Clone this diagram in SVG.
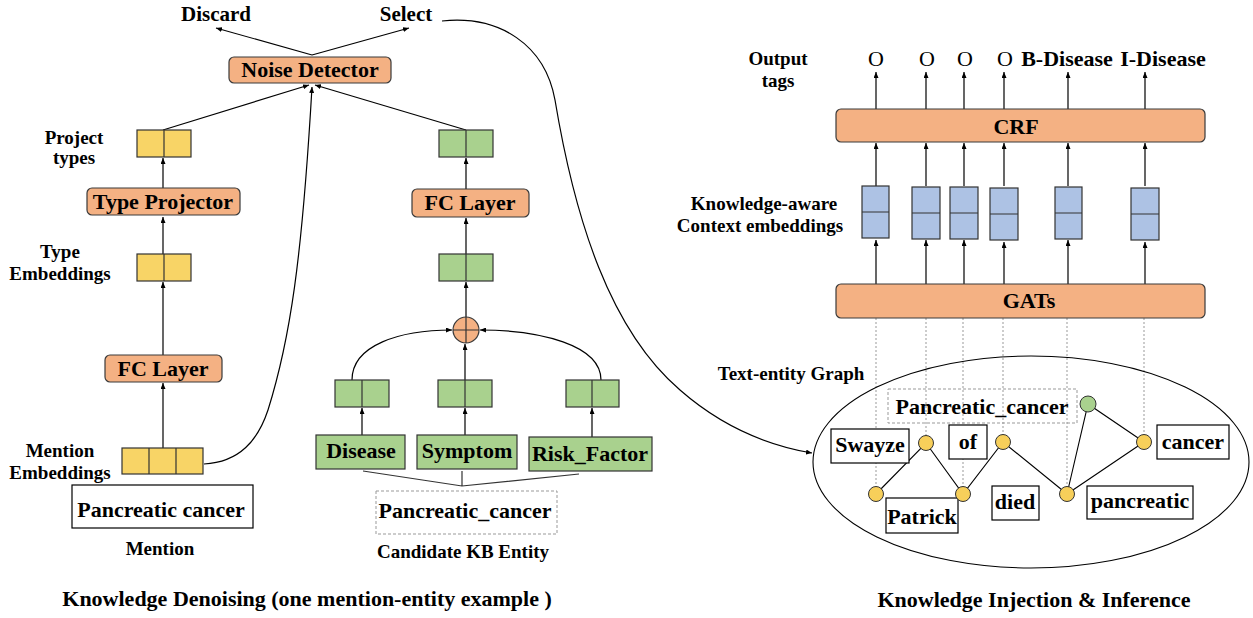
<svg xmlns="http://www.w3.org/2000/svg" width="1253" height="618" viewBox="0 0 1253 618">
<style>
text{font-family:"Liberation Serif","Times New Roman",serif;font-weight:bold;fill:#000}
.t{font-size:22px;text-anchor:middle}
.l{font-size:19px;text-anchor:middle}
.o{font-size:22px;font-weight:normal;text-anchor:middle}
.cap{font-size:22px;text-anchor:middle}
.orange{fill:#F4B183;stroke:#3a3a3a;stroke-width:1.2}
.yel{fill:#F8D466;stroke:#333;stroke-width:1.2}
.grn{fill:#A9D18E;stroke:#333;stroke-width:1.2}
.blu{fill:#ADC2E4;stroke:#333;stroke-width:1.2}
.wbox{fill:#fff;stroke:#000;stroke-width:1.2}
.dbox{fill:none;stroke:#999;stroke-width:1;stroke-dasharray:3,2}
.c{fill:none;stroke:#000;stroke-width:1.2}
.dot{fill:none;stroke:#999;stroke-width:1;stroke-dasharray:2,2}
.e{stroke:#000;stroke-width:1.1}
.yn{fill:#F7CF5A;stroke:#333;stroke-width:1}
.gn{fill:#A9D18E;stroke:#333;stroke-width:1}
</style>
<defs>
<marker id="ah" markerWidth="6" markerHeight="5" refX="6" refY="2.5" orient="auto" markerUnits="userSpaceOnUse">
<path d="M0,0 L6,2.5 L0,5 z" fill="#000"/>
</marker>
</defs>

<!-- connectors -->
<g id="connectors">
<path class="c" d="M312,55 L216,28" marker-end="url(#ah)"/>
<path class="c" d="M312,55 L409,28" marker-end="url(#ah)"/>
<path class="c" d="M163,130 L309,85" marker-end="url(#ah)"/>
<path class="c" d="M466,130 L315,85" marker-end="url(#ah)"/>
<path class="c" d="M204,464 C240,462 258,440 268,410 C290,340 302,260 312,87" marker-end="url(#ah)"/>
<path class="c" d="M163,188 L163,158" marker-end="url(#ah)"/>
<path class="c" d="M163,254 L163,217" marker-end="url(#ah)"/>
<path class="c" d="M163,355 L163,282" marker-end="url(#ah)"/>
<path class="c" d="M163,448 L163,383" marker-end="url(#ah)"/>
<path class="c" d="M466,190 L466,158" marker-end="url(#ah)"/>
<path class="c" d="M466,254 L466,218" marker-end="url(#ah)"/>
<path class="c" d="M466,317 L466,282" marker-end="url(#ah)"/>
<path class="c" d="M465,380 L465,344" marker-end="url(#ah)"/>
<path class="c" d="M352,380 C352,345 400,330 452,330" marker-end="url(#ah)"/>
<path class="c" d="M601,380 C601,345 540,330 480,330" marker-end="url(#ah)"/>
<path class="c" d="M362,435 L362,408" marker-end="url(#ah)"/>
<path class="c" d="M465,435 L465,408" marker-end="url(#ah)"/>
<path class="c" d="M592,437 L592,408" marker-end="url(#ah)"/>
<path class="c" d="M363,471 L462,486 L579,474 M462,471 L462,486" style="stroke:#333"/>
<path class="c" d="M442,21 C500,15 545,45 555,100 C575,220 610,330 680,390 C720,425 765,445 812,453" marker-end="url(#ah)"/>
<g>
<path class="c" d="M876,109 V72" marker-end="url(#ah)"/>
<path class="c" d="M926,109 V72" marker-end="url(#ah)"/>
<path class="c" d="M964,109 V72" marker-end="url(#ah)"/>
<path class="c" d="M1004,109 V72" marker-end="url(#ah)"/>
<path class="c" d="M1068,109 V72" marker-end="url(#ah)"/>
<path class="c" d="M1145,109 V72" marker-end="url(#ah)"/>
<path class="c" d="M876,186 V143" marker-end="url(#ah)"/>
<path class="c" d="M926,186 V143" marker-end="url(#ah)"/>
<path class="c" d="M964,186 V143" marker-end="url(#ah)"/>
<path class="c" d="M1004,186 V143" marker-end="url(#ah)"/>
<path class="c" d="M1068,186 V143" marker-end="url(#ah)"/>
<path class="c" d="M1145,186 V143" marker-end="url(#ah)"/>
<path class="c" d="M876,284 V240" marker-end="url(#ah)"/>
<path class="c" d="M926,284 V240" marker-end="url(#ah)"/>
<path class="c" d="M964,284 V240" marker-end="url(#ah)"/>
<path class="c" d="M1004,284 V242" marker-end="url(#ah)"/>
<path class="c" d="M1068,284 V240" marker-end="url(#ah)"/>
<path class="c" d="M1145,284 V242" marker-end="url(#ah)"/>
</g>
<path class="dot" d="M876,318 V494 M926,318 V443 M963,318 V494 M1003,318 V442 M1067,318 V494 M1144,318 V442"/>
<path class="e" d="M876,494 L926,443 L963,494 L1003,442 L1067,494 L1144,442 M1067,494 L1088,404 L1144,442" fill="none"/>
</g>

<!-- left: knowledge denoising -->
<g id="discard"><text x="216" y="21" class="t" style="font-size:21px">Discard</text></g>
<g id="select"><text x="406" y="21" class="t" style="font-size:21px">Select</text></g>
<g id="noise-detector"><rect class="orange" x="229" y="57" width="162" height="26" rx="5"/><text x="310" y="77" class="t">Noise Detector</text></g>
<g id="project-types"><rect class="yel" x="137" y="130" width="54" height="27"/><line x1="164" y1="130" x2="164" y2="157" stroke="#333" stroke-width="1.2"/>
<text x="74" y="144" class="l">Project</text><text x="74" y="164" class="l">types</text></g>
<g id="type-projector"><rect class="orange" x="87" y="188" width="153" height="27" rx="5"/><text x="163" y="209" class="t">Type Projector</text></g>
<g id="type-embeddings"><rect class="yel" x="137" y="254" width="54" height="27"/><line x1="164" y1="254" x2="164" y2="281" stroke="#333" stroke-width="1.2"/>
<text x="60" y="258" class="l">Type</text><text x="60" y="280" class="l">Embeddings</text></g>
<g id="fc-layer-left"><rect class="orange" x="105" y="355" width="117" height="27" rx="5"/><text x="163" y="376" class="t">FC Layer</text></g>
<g id="mention-embeddings"><rect class="yel" x="122" y="448" width="81" height="26"/><path d="M149,448 V474 M176,448 V474" stroke="#333" stroke-width="1.2"/>
<text x="60" y="457" class="l">Mention</text><text x="60" y="479" class="l">Embeddings</text></g>
<g id="mention"><rect class="wbox" x="72" y="485" width="181" height="43"/><text x="161" y="517" class="t">Pancreatic cancer</text>
<text x="160" y="555" class="l">Mention</text></g>

<g id="green-top"><rect class="grn" x="439" y="130" width="54" height="27"/><line x1="466" y1="130" x2="466" y2="157" stroke="#333" stroke-width="1.2"/></g>
<g id="fc-layer-right"><rect class="orange" x="412" y="189" width="117" height="28" rx="5"/><text x="470" y="210" class="t">FC Layer</text></g>
<g id="green-mid"><rect class="grn" x="439" y="254" width="54" height="27"/><line x1="466" y1="254" x2="466" y2="281" stroke="#333" stroke-width="1.2"/></g>
<g id="plus"><circle cx="466" cy="330" r="13" class="orange"/><path d="M453,330 H479 M466,317 V343" stroke="#333" stroke-width="1.2"/></g>
<g id="emb-disease"><rect class="grn" x="335" y="380" width="54" height="27"/><line x1="362" y1="380" x2="362" y2="407" stroke="#333" stroke-width="1.2"/></g>
<g id="emb-symptom"><rect class="grn" x="438" y="380" width="54" height="27"/><line x1="465" y1="380" x2="465" y2="407" stroke="#333" stroke-width="1.2"/></g>
<g id="emb-risk"><rect class="grn" x="566" y="380" width="53" height="27"/><line x1="592" y1="380" x2="592" y2="407" stroke="#333" stroke-width="1.2"/></g>
<g id="disease"><rect class="grn" x="316" y="435" width="89" height="34"/><text x="361" y="458" class="t">Disease</text></g>
<g id="symptom"><rect class="grn" x="417" y="435" width="100" height="34"/><text x="467" y="458" class="t">Symptom</text></g>
<g id="risk-factor"><rect class="grn" x="529" y="437" width="123" height="34"/><text x="590" y="461" class="t">Risk_Factor</text></g>
<g id="candidate"><rect class="dbox" x="376" y="491" width="181" height="43"/><text x="465" y="518" class="t">Pancreatic_cancer</text>
<text x="463" y="558" class="l">Candidate KB Entity</text></g>
<text x="307" y="606" class="cap">Knowledge Denoising (one mention-entity example )</text>

<!-- right: injection & inference -->
<g id="output-tags">
<text x="778" y="65" class="l">Output</text><text x="778" y="87" class="l">tags</text>
<text x="876" y="66" class="o">O</text><text x="927" y="66" class="o">O</text><text x="965" y="66" class="o">O</text><text x="1005" y="66" class="o">O</text>
<text x="1067" y="66" class="t">B-Disease</text><text x="1163" y="66" class="t">I-Disease</text>
</g>
<g id="crf"><rect class="orange" x="836" y="109" width="369" height="33" rx="5"/><text x="1016" y="134" class="t">CRF</text></g>
<g id="context-embeddings">
<text x="764" y="210" class="l">Knowledge-aware</text><text x="760" y="232" class="l">Context embeddings</text>
<g>
<rect class="blu" x="862" y="186" width="27" height="52"/><line x1="862" y1="212" x2="889" y2="212" stroke="#333"/>
<rect class="blu" x="912" y="187" width="28" height="52"/><line x1="912" y1="213" x2="940" y2="213" stroke="#333"/>
<rect class="blu" x="950" y="187" width="28" height="52"/><line x1="950" y1="213" x2="978" y2="213" stroke="#333"/>
<rect class="blu" x="990" y="188" width="28" height="52"/><line x1="990" y1="214" x2="1018" y2="214" stroke="#333"/>
<rect class="blu" x="1055" y="187" width="27" height="52"/><line x1="1055" y1="213" x2="1082" y2="213" stroke="#333"/>
<rect class="blu" x="1131" y="188" width="28" height="52"/><line x1="1131" y1="214" x2="1159" y2="214" stroke="#333"/>
</g>
</g>
<g id="gats"><rect class="orange" x="836" y="284" width="369" height="34" rx="5"/><text x="1029" y="308" class="t">GATs</text></g>
<g id="text-entity-graph">
<text x="791" y="380" class="l">Text-entity Graph</text>
<ellipse cx="1031" cy="462" rx="218" ry="106" fill="none" stroke="#000" stroke-width="1.1"/>
<rect class="dbox" x="888" y="389" width="189" height="34"/><text x="982" y="414" class="t">Pancreatic_cancer</text>
<rect class="wbox" x="831" y="429" width="78" height="34"/><text x="870" y="452" class="t">Swayze</text>
<rect class="wbox" x="949" y="425" width="38" height="34"/><text x="968" y="449" class="t">of</text>
<rect class="wbox" x="886" y="498" width="72" height="35"/><text x="922" y="524" class="t">Patrick</text>
<rect class="wbox" x="992" y="486" width="47" height="34"/><text x="1015" y="509" class="t">died</text>
<rect class="wbox" x="1087" y="486" width="106" height="33"/><text x="1140" y="508" class="t">pancreatic</text>
<rect class="wbox" x="1157" y="425" width="72" height="34"/><text x="1193" y="449" class="t">cancer</text>
<circle class="yn" cx="876" cy="494" r="7.5"/>
<circle class="yn" cx="926" cy="443" r="7.5"/>
<circle class="yn" cx="963" cy="494" r="7.5"/>
<circle class="yn" cx="1003" cy="442" r="7.5"/>
<circle class="yn" cx="1067" cy="494" r="7.5"/>
<circle class="yn" cx="1144" cy="442" r="7.5"/>
<circle class="gn" cx="1088" cy="404" r="8"/>
</g>
<text x="1034" y="607" class="cap">Knowledge Injection &amp; Inference</text>
</svg>
